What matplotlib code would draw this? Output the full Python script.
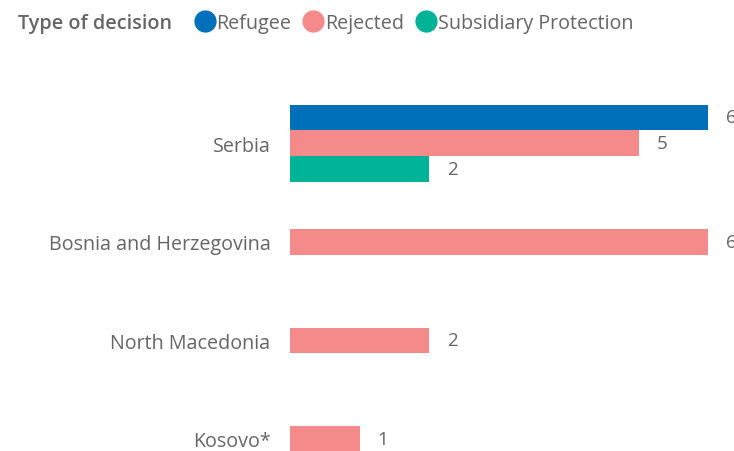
import numpy as np
import matplotlib.pyplot as plt
from matplotlib.lines import Line2D

# data
countries = ['Serbia', 'Bosnia and Herzegovina', 'North Macedonia', 'Kosovo*']
refugee = [6, 0, 0, 0]
rejected = [5, 6, 2, 1]
subsidiary = [2, 0, 0, 0]
series_names = ['Refugee', 'Rejected', 'Subsidiary Protection']
colors = ['#0070BA', '#F48A89', '#00B296']

plt.rcParams['font.family'] = ['Open Sans', 'DejaVu Sans']
grey = '#666666'

fig = plt.figure(figsize=(7.34, 4.52), dpi=100)
W, H = 734, 452
ax = fig.add_axes([290 / W, 0, (W - 290) / W, (452 - 60) / H])

y = np.arange(len(countries))
h = 0.26
offsets = [-h, 0, h]
for vals, off, c in zip([refugee, rejected, subsidiary], offsets, colors):
    vals = np.array(vals, dtype=float)
    mask = vals > 0
    bars = ax.barh(y[mask] + off, vals[mask], height=h, color=c)
    ax.bar_label(bars, labels=[f'{v:g}' for v in vals[mask]], padding=13,
                 color=grey, fontsize=13.5, clip_on=False)

ax.set_xlim(0, 6.37)
ax.set_ylim(3.122, -0.853)
ax.set_yticks(y)
ax.set_yticklabels(countries, fontsize=14.2, color=grey)
ax.tick_params(axis='y', length=0, pad=14)
ax.set_xticks([])
for s in ax.spines.values():
    s.set_visible(False)

# legend
fig.text(18 / W, 1 - 24 / H, 'Type of decision', fontsize=14.2, color=grey,
         fontweight='semibold', va='center', ha='left')
handles = [Line2D([], [], marker='o', linestyle='', markersize=15,
                  markerfacecolor=c, markeredgecolor=c) for c in colors]
fig.legend(handles, series_names, loc='center left', bbox_to_anchor=(190 / W, 1 - 24 / H),
           ncol=3, frameon=False, handletextpad=-0.15, columnspacing=0.35,
           handlelength=1.5, borderpad=0, borderaxespad=0,
           prop={'size': 14.2}, labelcolor=grey)

fig.savefig('out.png', dpi=100)
